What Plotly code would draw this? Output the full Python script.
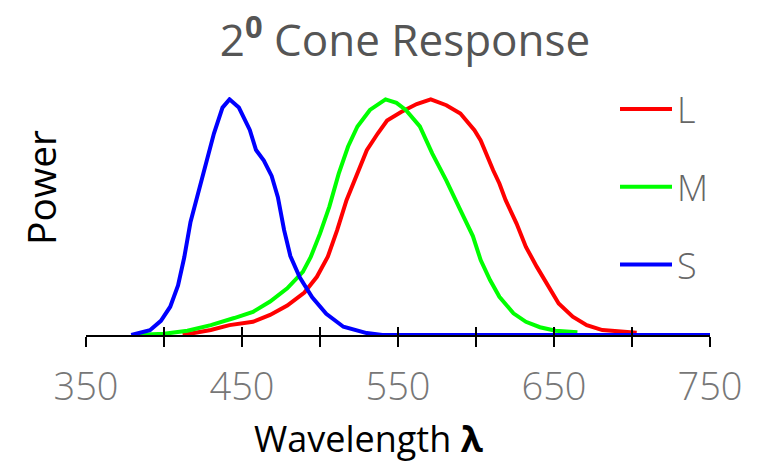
import plotly.graph_objects as go

# wavelengths (nm) and normalised responses
s_wl = [379, 391, 398, 404, 409, 413, 417, 423, 428, 432, 437.5, 442, 448, 455, 459, 464, 469, 473,
        477, 481, 487, 495, 504, 515, 530, 540, 600, 650, 700, 750]
s_val = [0, 0.02, 0.06, 0.12, 0.21, 0.33, 0.48, 0.63, 0.755, 0.855, 0.965, 1.0, 0.965, 0.87, 0.785,
         0.74, 0.675, 0.585, 0.445, 0.335, 0.245, 0.16, 0.09, 0.035, 0.008, 0.0, 0, 0, 0, 0]

m_wl = [381, 390, 400, 415, 430, 445, 457, 468, 479, 489, 494, 500, 506, 512, 518, 524, 532, 542,
        549, 555, 564, 572, 581, 590, 598, 603, 609, 615, 624, 632, 641, 651, 665]
m_val = [0, 0.002, 0.005, 0.018, 0.042, 0.072, 0.098, 0.142, 0.198, 0.268, 0.33, 0.43, 0.545, 0.685,
         0.8, 0.885, 0.955, 1.0, 0.985, 0.955, 0.885, 0.77, 0.655, 0.53, 0.42, 0.318, 0.233, 0.162,
         0.092, 0.056, 0.033, 0.018, 0.012]

l_wl = [412, 430, 442, 453, 457, 468, 479, 490, 498, 505, 511, 517, 524, 530, 537, 543, 552, 562,
        571, 581, 590, 599, 603, 607, 611, 615, 619, 626, 632, 639, 645, 653, 662, 671, 681, 692, 703]
l_val = [0, 0.021, 0.042, 0.05, 0.056, 0.085, 0.125, 0.18, 0.247, 0.332, 0.445, 0.572, 0.685, 0.784,
         0.855, 0.91, 0.946, 0.98, 1.0, 0.975, 0.94, 0.869, 0.826, 0.76, 0.699, 0.643, 0.572, 0.473,
         0.374, 0.289, 0.219, 0.134, 0.078, 0.042, 0.021, 0.014, 0.01]

label_vals = [350, 450, 550, 650, 750]
tick_vals = [350, 400, 450, 500, 550, 600, 650, 700, 750]

W, H = 774, 465
OFF = 8  # page body margin
L, R, T, B = 86 - OFF, 64 + OFF, 97 - OFF, 130 + OFF
pw, ph = W - L - R, H - T - B


def px_x(x):
    return (x - OFF - L) / pw


def px_y(y):
    return (H - B - (y - OFF)) / ph


fig = go.Figure()
fig.add_trace(go.Scatter(x=l_wl, y=l_val, name="L", mode="lines", legendgroup="L",
                         line=dict(color="#ff0000", width=4)))
fig.add_trace(go.Scatter(x=m_wl, y=m_val, name="M", mode="lines", legendgroup="M",
                         line=dict(color="#00ff00", width=4)))
fig.add_trace(go.Scatter(x=s_wl, y=s_val, name="S", mode="lines", legendgroup="S",
                         line=dict(color="#0000ff", width=4)))
# invisible trace so the second (inside-tick) axis gets drawn
fig.add_trace(go.Scatter(x=[350], y=[0], xaxis="x2", mode="markers", opacity=0,
                         showlegend=False, hoverinfo="skip"))

light = dict(family="Open Sans", weight=300)

fig.update_layout(
    width=W, height=H,
    margin=dict(l=L, r=R, t=T, b=B, autoexpand=False),
    plot_bgcolor="white", paper_bgcolor="white",
    font=dict(family="Open Sans", color="#666666"),
    title=dict(text="2<sup><b>0</b></sup> Cone Response", x=px_x(405), xref="paper",
               xanchor="center", y=1 - (41 - OFF) / H, yref="container", yanchor="middle",
               font=dict(family="Open Sans", size=44, color="#555555")),
    xaxis=dict(range=[350, 750], tickvals=label_vals, ticks="outside",
               ticklen=10, tickwidth=2, tickcolor="black", showline=True, linecolor="black",
               linewidth=2, showgrid=False, zeroline=False, layer="below traces",
               ticklabelstandoff=7,
               minor=dict(tickvals=tick_vals, ticks="outside", ticklen=10, tickwidth=2,
                          tickcolor="black", showgrid=False),
               tickfont=dict(size=38, color="#777777", **light)),
    xaxis2=dict(range=[350, 750], overlaying="x", matches="x", anchor="y", side="bottom",
                tickvals=tick_vals, ticks="inside", ticklen=8, tickwidth=2, tickcolor="black",
                showticklabels=False, showline=False, showgrid=False, zeroline=False),
    yaxis=dict(range=[0, 1.01], visible=False, showgrid=False, zeroline=False),
    legend=dict(xref="container", yref="container", x=607 / W, y=1 - 71 / H,
                xanchor="left", yanchor="top", itemwidth=52, tracegroupgap=28,
                traceorder="grouped", font=dict(size=36, color="#666666", **light),
                bgcolor="rgba(0,0,0,0)"),
    annotations=[
        dict(text="Wavelength <b>λ</b>", x=px_x(368), y=px_y(438), xref="paper", yref="paper",
             xanchor="center", yanchor="middle", showarrow=False,
             font=dict(family="Open Sans", size=36, color="black")),
        dict(text="Power", x=px_x(40), y=px_y(188), xref="paper", yref="paper", textangle=-90,
             xanchor="center", yanchor="middle", showarrow=False,
             font=dict(family="Open Sans", size=39, color="black")),
    ],
)

fig.write_html("out.html")
